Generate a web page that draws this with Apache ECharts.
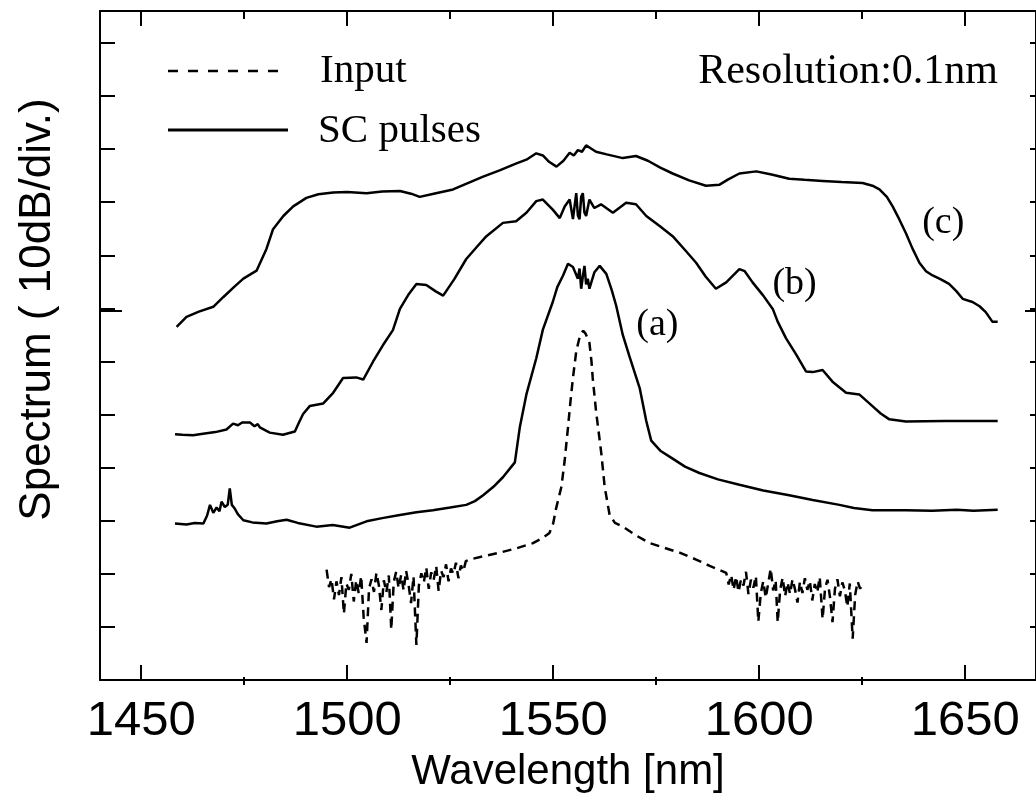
<!DOCTYPE html>
<html>
<head>
<meta charset="utf-8">
<script src="https://cdn.jsdelivr.net/npm/echarts@6/dist/echarts.min.js"></script>
<style>html,body{margin:0;padding:0;background:#fff;}#chart{width:1036px;height:798px;}</style>
</head>
<body>
<div id="chart"></div>
<script>
// ---- data (wavelength in nm, level in dB, 10 dB per division) ----
const majorTicks = [1450, 1500, 1550, 1600, 1650];
const minorTicks = [1475, 1525, 1575, 1625];
const yTicks = [10, 20, 30, 40, 50, 60, 70, 80, 90, 100, 110, 120];
const yRefTick = [70];

const wlC = [1458.6,1461.0,1464.0,1467.5,1469.9,1472.5,1474.8,1478.0,1480.4,1482.0,1484.5,1486.9,1490.1,1493.0,1496.6,1500.0,1504.7,1508.5,1512.8,1515.5,1517.6,1521.0,1525.7,1529.0,1533.0,1537.0,1541.1,1543.5,1545.9,1547.5,1549.0,1550.8,1552.5,1554.0,1555.0,1556.0,1557.0,1558.0,1559.0,1560.4,1563.0,1566.9,1570.1,1573.0,1576.0,1579.0,1583.0,1587.1,1590.4,1592.5,1595.2,1599.3,1603.0,1607.3,1611.0,1615.4,1620.0,1625.1,1627.5,1629.2,1631.0,1632.4,1634.0,1635.6,1637.2,1638.9,1640.5,1642.1,1644.0,1646.1,1647.8,1649.4,1651.8,1653.5,1655.0,1656.6,1657.9];
const dbC = [66.5,68.4,69.4,70.3,72.1,74.0,75.6,77.1,81.2,84.9,87.4,89.2,90.8,91.5,91.8,91.9,91.7,92.0,92.1,91.6,91.0,91.6,92.4,93.5,94.8,96.0,97.3,98.0,99.2,98.8,97.6,96.7,97.8,99.3,98.8,99.8,99.5,100.7,100.2,99.5,99.0,98.3,98.7,97.8,96.5,95.4,94.1,93.1,93.3,94.3,95.4,95.8,95.2,94.4,94.2,94.0,93.8,93.6,93.1,92.4,91.0,89.2,86.8,84.2,81.3,78.6,77.0,76.2,75.5,74.6,73.3,71.8,71.2,70.4,69.3,67.5,67.5];

const wlB = [1458.2,1460.0,1462.6,1465.0,1468.0,1470.7,1472.3,1473.5,1474.5,1476.4,1477.5,1478.3,1478.8,1481.2,1484.4,1487.3,1488.3,1489.3,1490.9,1494.2,1496.6,1499.0,1502.2,1503.9,1506.3,1508.7,1511.1,1512.8,1514.8,1516.8,1519.2,1521.5,1523.3,1526.0,1528.9,1531.5,1533.8,1537.8,1541.0,1543.5,1545.9,1547.5,1549.9,1551.6,1552.8,1554.0,1554.8,1555.6,1556.0,1556.4,1556.8,1557.2,1557.6,1558.0,1558.8,1560.0,1561.6,1564.5,1567.7,1570.1,1572.6,1576.0,1579.0,1582.0,1584.7,1587.0,1589.5,1592.0,1595.2,1596.5,1598.4,1601.0,1603.3,1604.5,1606.5,1609.0,1611.4,1613.0,1615.4,1617.8,1621.1,1624.3,1627.5,1629.5,1631.6,1635.6,1645.0,1657.9];
const dbB = [46.3,46.2,46.1,46.4,46.7,47.2,48.3,48.0,48.5,48.5,47.8,48.2,47.6,46.6,46.2,46.8,48.5,50.1,51.6,52.1,54.1,56.9,57.0,56.6,60.0,63.1,65.9,69.9,72.5,74.6,74.4,73.2,72.4,75.5,79.3,81.6,83.6,86.1,86.4,88.0,90.2,90.5,88.6,87.0,89.2,90.5,86.8,91.7,87.5,86.8,91.0,91.7,88.0,87.4,90.5,88.9,89.6,88.0,89.9,89.6,87.4,85.4,83.6,81.0,78.6,76.0,73.7,74.9,77.4,77.0,74.9,72.4,69.9,67.5,64.4,61.3,58.1,58.0,58.4,56.2,54.1,53.8,51.6,50.2,49.1,48.7,48.8,48.8];

const wlA = [1458.2,1461.0,1463.0,1465.1,1466.0,1466.7,1467.5,1468.3,1469.0,1469.5,1470.3,1471.0,1471.5,1472.0,1472.7,1473.5,1474.8,1477.0,1480.4,1483.0,1485.3,1488.0,1492.5,1496.5,1500.6,1504.7,1508.5,1512.8,1516.8,1520.8,1525.0,1528.9,1531.0,1533.0,1535.5,1537.8,1540.7,1541.9,1543.5,1545.9,1547.5,1549.9,1551.0,1552.4,1553.6,1554.8,1556.0,1556.4,1556.8,1557.2,1557.6,1558.0,1558.4,1558.8,1560.0,1561.3,1562.9,1564.2,1565.3,1566.9,1568.5,1571.0,1572.6,1573.8,1576.0,1579.0,1582.0,1585.5,1590.0,1595.2,1601.0,1607.3,1613.0,1619.5,1623.0,1627.5,1635.6,1642.0,1648.0,1652.0,1657.9];
const dbA = [29.5,29.3,29.6,29.5,31.0,33.0,31.5,32.5,31.8,33.6,32.6,33.0,36.1,33.0,32.3,31.2,30.1,29.7,29.5,29.9,30.2,29.6,28.9,29.2,28.7,29.9,30.5,31.1,31.6,32.0,32.5,33.0,33.7,34.8,36.4,38.2,41.0,47.6,53.8,60.6,66.0,71.2,74.0,76.2,78.4,77.8,75.6,77.5,73.7,76.0,78.0,74.5,75.6,73.7,76.8,78.0,76.5,73.5,70.5,65.0,61.0,55.0,48.8,45.1,43.2,41.7,40.2,39.0,37.8,36.8,35.7,34.8,33.9,33.0,32.4,32.0,32.0,31.9,32.1,31.9,32.1];

const wlIn = [1495.0,1495.6,1496.2,1496.8,1497.4,1498.0,1498.6,1499.2,1499.8,1500.4,1501.0,1501.6,1502.2,1502.8,1503.4,1504.0,1504.7,1505.3,1505.9,1506.5,1507.1,1507.7,1508.3,1508.9,1509.5,1510.1,1510.7,1511.3,1511.9,1512.5,1513.1,1513.7,1514.3,1514.9,1515.5,1516.1,1516.8,1517.4,1518.0,1518.6,1519.2,1519.8,1520.4,1521.0,1521.6,1522.2,1522.8,1523.4,1524.0,1524.6,1525.2,1525.8,1526.4,1527.0,1527.6,1528.2,1528.8,1529.7,1533.0,1537.0,1541.0,1545.1,1547.5,1549.1,1550.0,1550.7,1552.0,1552.8,1553.6,1554.2,1554.8,1555.6,1556.3,1556.8,1557.3,1557.9,1558.8,1559.3,1559.6,1560.4,1561.7,1562.5,1563.7,1565.0,1566.9,1570.0,1573.4,1577.0,1580.7,1584.7,1588.0,1592.0,1592.6,1593.2,1593.8,1594.4,1595.0,1595.6,1596.2,1596.8,1597.4,1598.0,1598.6,1599.2,1599.8,1600.4,1601.0,1601.6,1602.2,1602.8,1603.4,1604.0,1604.5,1605.1,1605.7,1606.3,1606.9,1607.5,1608.1,1608.7,1609.3,1609.9,1610.5,1611.1,1611.7,1612.3,1612.9,1613.5,1614.1,1614.7,1615.4,1616.0,1616.6,1617.2,1617.8,1618.4,1619.0,1619.6,1620.2,1620.8,1621.4,1622.0,1622.7,1623.3,1623.9,1624.5,1625.1];
const dbIn = [20.8,17.5,19.0,15.2,18.6,16.0,19.4,12.5,18.2,17.0,20.0,14.8,18.8,16.4,19.6,11.8,7.0,17.2,19.0,16.6,20.2,17.8,13.2,18.8,16.5,19.7,9.5,18.5,20.4,17.3,19.8,16.9,20.6,18.0,14.5,19.5,6.6,17.8,20.1,18.4,21.2,17.2,20.3,18.9,21.5,16.8,20.6,19.4,21.8,18.6,21.0,20.0,22.1,19.2,21.6,20.5,22.4,22.7,23.3,24.0,24.8,25.8,26.8,27.7,29.5,32.3,36.4,41.4,47.6,52.5,56.9,61.9,64.2,65.3,65.8,65.2,63.5,60.0,56.9,50.7,42.6,36.4,31.1,29.6,28.9,27.3,25.8,24.9,24.0,22.7,21.5,20.2,18.0,19.8,17.0,19.5,16.6,19.0,17.8,20.4,16.2,18.9,17.4,19.6,11.0,16.4,18.6,15.5,18.2,21.0,16.9,18.8,10.9,17.0,19.3,15.8,18.4,16.2,19.0,17.1,14.6,18.5,16.4,19.2,17.0,18.7,15.0,18.1,16.5,19.4,11.5,17.3,18.9,15.6,10.9,17.2,19.0,15.8,18.4,16.9,13.8,18.2,7.8,16.0,18.6,17.2,18.3];

// curve tags, anchored in data coordinates
const tagText = ['(a)', '(b)', '(c)'];
const tagWl = [1575.3, 1608.6, 1644.7];
const tagDb = [66.8, 74.6, 86.0];

const legendNames = ['Input', 'SC pulses'];
const noteText = 'Resolution:0.1nm';

const zip = (xs, ys) => xs.map((x, i) => [x, ys[i]]);

const X_MIN = 1440, X_MAX = 1667.2, Y_MIN = 0, Y_MAX = 126;
const SERIF = '"Liberation Serif", "Times New Roman", serif';
const SANS = '"Liberation Sans", Arial, sans-serif';
const GRID = { left: 100, right: -1, top: 11, bottom: 113 };

function axLine(show) {
  return { show: show, onZero: false, lineStyle: { color: '#000', width: 2 } };
}
function xAx(grid, pos, ticks, len, withLabels, showLine) {
  return {
    type: 'value', gridIndex: grid, position: pos, min: X_MIN, max: X_MAX,
    axisLine: axLine(showLine),
    splitLine: { show: false },
    axisTick: { show: true, inside: true, length: len, customValues: ticks, lineStyle: { color: '#000', width: 2 } },
    axisLabel: withLabels ? { show: true, customValues: ticks, margin: 17, fontFamily: SANS, fontSize: 49, color: '#000', formatter: v => String(v) } : { show: false },
    name: withLabels ? 'Wavelength [nm]' : '',
    nameLocation: 'middle', nameGap: 68,
    nameTextStyle: { fontFamily: SANS, fontSize: 42, color: '#000' }
  };
}
function yAx(grid, pos, ticks, len, showLine, withName) {
  return {
    type: 'value', gridIndex: grid, position: pos, min: Y_MIN, max: Y_MAX,
    axisLine: axLine(showLine),
    splitLine: { show: false },
    axisTick: { show: true, inside: true, length: len, customValues: ticks, lineStyle: { color: '#000', width: 2 } },
    axisLabel: { show: false },
    name: withName ? 'Spectrum ( 10dB/div.)' : '',
    nameLocation: 'middle', nameGap: 40, nameRotate: 90,
    nameTextStyle: { fontFamily: SANS, fontSize: 44, color: '#000', padding: [0, 0, 0, 72] }
  };
}

const chart = echarts.init(document.getElementById('chart'), null, { renderer: 'canvas' });
const lineBase = { type: 'line', showSymbol: false, symbol: 'none', smooth: false, animation: false, xAxisIndex: 0, yAxisIndex: 0 };
chart.setOption({
  backgroundColor: '#fff',
  animation: false,
  grid: [Object.assign({}, GRID), Object.assign({}, GRID)],
  xAxis: [
    xAx(0, 'bottom', majorTicks, 15, true, true),
    xAx(0, 'top', majorTicks, 15, false, true),
    xAx(1, 'bottom', minorTicks, 8, false, false),
    xAx(1, 'top', minorTicks, 8, false, false)
  ],
  yAxis: [
    yAx(0, 'left', yTicks, 15, true, true),
    yAx(0, 'right', yTicks, 6, true, false),
    yAx(1, 'left', yRefTick, 22, false, false),
    yAx(1, 'right', yRefTick, 11, false, false)
  ],
  series: [
    Object.assign({}, lineBase, { name: 'Input', data: zip(wlIn, dbIn), lineStyle: { color: '#000', width: 2.5, type: [9, 6] } }),
    Object.assign({}, lineBase, { name: 'SC pulses (a)', data: zip(wlA, dbA), lineStyle: { color: '#000', width: 2.5 } }),
    Object.assign({}, lineBase, { name: 'SC pulses (b)', data: zip(wlB, dbB), lineStyle: { color: '#000', width: 2.5 } }),
    Object.assign({}, lineBase, { name: 'SC pulses (c)', data: zip(wlC, dbC), lineStyle: { color: '#000', width: 2.5 } })
  ]
});

// legend and annotations
const g = [];
g.push({ type: 'line', shape: { x1: 168, y1: 71, x2: 288, y2: 71 }, style: { stroke: '#000', lineWidth: 2.5, lineDash: [10, 10] } });
g.push({ type: 'text', x: 320, y: 71, style: { text: legendNames[0], font: '41px ' + SERIF, fill: '#000', textAlign: 'left', textVerticalAlign: 'middle' } });
g.push({ type: 'line', shape: { x1: 168, y1: 130, x2: 288, y2: 130 }, style: { stroke: '#000', lineWidth: 3 } });
g.push({ type: 'text', x: 318, y: 131, style: { text: legendNames[1], font: '41px ' + SERIF, fill: '#000', textAlign: 'left', textVerticalAlign: 'middle' } });
g.push({ type: 'text', x: 998, y: 72, style: { text: noteText, font: '42px ' + SERIF, fill: '#000', textAlign: 'right', textVerticalAlign: 'middle' } });
tagText.forEach((t, i) => {
  const p = chart.convertToPixel({ gridIndex: 0 }, [tagWl[i], tagDb[i]]);
  g.push({ type: 'text', x: p[0], y: p[1], style: { text: t, font: '38px ' + SERIF, fill: '#000', textAlign: 'center', textVerticalAlign: 'middle' } });
});
chart.setOption({ graphic: g });
</script>
</body>
</html>
